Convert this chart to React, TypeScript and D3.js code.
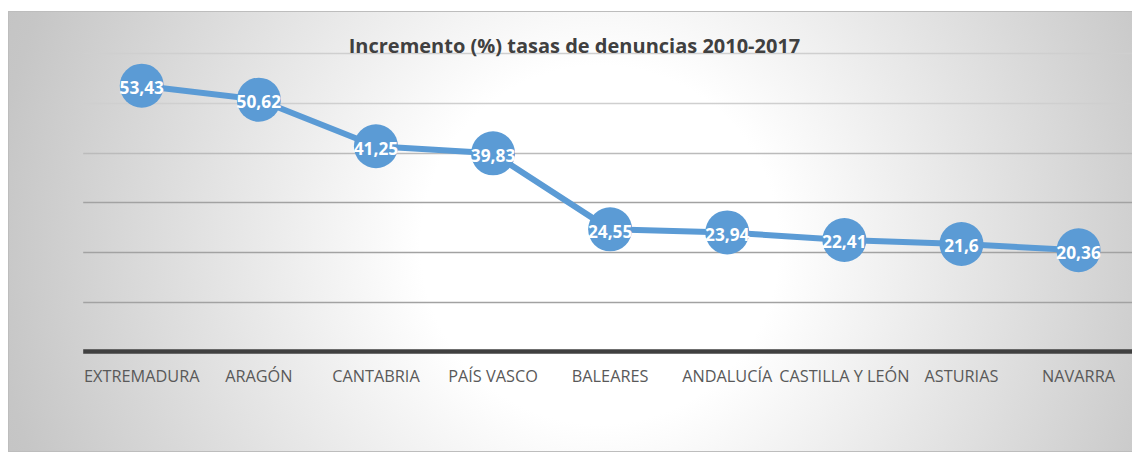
import React from "react";
import * as d3 from "d3";

const title = "Incremento (%) tasas de denuncias 2010-2017";
const categories = [
  "EXTREMADURA",
  "ARAGÓN",
  "CANTABRIA",
  "PAÍS VASCO",
  "BALEARES",
  "ANDALUCÍA",
  "CASTILLA Y LEÓN",
  "ASTURIAS",
  "NAVARRA",
];
const values = [53.43, 50.62, 41.25, 39.83, 24.55, 23.94, 22.41, 21.6, 20.36];
const yDomain = [0, 60];
const gridTicks = [10, 20, 30, 40, 50, 60];

const W = 1132;
const H = 453;
const fmt = (v: number) => String(v).replace(".", ",");
const gridColor = (t: number) => (t <= 30 ? "#a2a2a2" : t <= 40 ? "#bbbbbb" : "#cfcfcf");

export default function App() {
  const x = d3.scaleBand<string>().domain(categories).range([83.2, 1137.1]).padding(0);
  const y = d3.scaleLinear().domain(yDomain).range([351.5, 53]);
  const cx = (c: string) => (x(c) as number) + x.bandwidth() / 2;
  const pts = categories.map((c, i) => ({ c, v: values[i] }));
  const line = d3
    .line<{ c: string; v: number }>()
    .x((d) => cx(d.c))
    .y((d) => y(d.v));
  const font = "'Open Sans', 'DejaVu Sans', sans-serif";

  return (
    <svg
      width={W}
      height={H}
      style={{ position: "absolute", left: 0, top: 0, display: "block" }}
    >
      <defs>
        <radialGradient id="bg" gradientUnits="userSpaceOnUse" cx={600} cy={245} r={640}>
          <stop offset="0" stopColor="#ffffff" />
          <stop offset="0.28" stopColor="#ffffff" />
          <stop offset="0.95" stopColor="#c6c6c6" />
          <stop offset="1" stopColor="#c4c4c4" />
        </radialGradient>
      </defs>
      <rect x={0} y={0} width={W} height={H} fill="#ffffff" />
      <rect
        x={8.5}
        y={11.5}
        width={1140}
        height={440}
        fill="url(#bg)"
        stroke="#bdbdbd"
        strokeWidth={1}
      />
      <g>
        {gridTicks.map((t) => (
          <line
            key={t}
            x1={83.2}
            x2={1137.1}
            y1={Math.round(y(t)) + 0.5}
            y2={Math.round(y(t)) + 0.5}
            stroke={gridColor(t)}
            strokeWidth={1.4}
          />
        ))}
        <line x1={83.2} x2={1137.1} y1={y(0)} y2={y(0)} stroke="#404040" strokeWidth={4.5} />
      </g>
      <text
        x={574.5}
        y={53.3}
        textAnchor="middle"
        fontFamily={font}
        fontWeight="bold"
        fontSize={20}
        fill="#404040"
      >
        {title}
      </text>
      <path
        d={line(pts) || ""}
        fill="none"
        stroke="#5b9bd5"
        strokeWidth={6}
        strokeLinejoin="round"
        strokeLinecap="round"
      />
      {pts.map((d) => (
        <circle key={d.c} cx={cx(d.c)} cy={y(d.v)} r={22} fill="#5b9bd5" />
      ))}
      {pts.map((d) => (
        <text
          key={"l" + d.c}
          x={cx(d.c)}
          y={y(d.v) + 8.3}
          textAnchor="middle"
          fontFamily={font}
          fontWeight="bold"
          fontSize={17.3}
          fill="#ffffff"
        >
          {fmt(d.v)}
        </text>
      ))}
      {categories.map((c) => (
        <text
          key={"c" + c}
          x={cx(c)}
          y={382.3}
          textAnchor="middle"
          fontFamily={font}
          fontSize={16.3}
          fill="#595959"
        >
          {c}
        </text>
      ))}
    </svg>
  );
}
